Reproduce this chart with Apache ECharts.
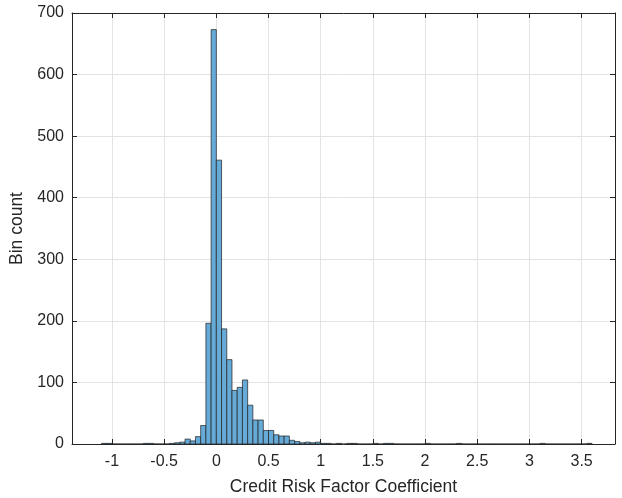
<!DOCTYPE html>
<html>
<head>
<meta charset="utf-8">
<script src="https://cdn.jsdelivr.net/npm/echarts@6/dist/echarts.min.js"></script>
<style>
  html, body { margin: 0; padding: 0; background: #fff; }
  #chart { width: 622px; height: 498px; }
</style>
</head>
<body>
<div id="chart"></div>
<script>
// Histogram of fitted credit risk factor coefficients (bin width 0.05)
const binStart = -1.1;
const binWidth = 0.05;
const binCounts = [
  1, 1, 0, 0, 0, 0, 0, 0, 1, 1,      // -1.10 .. -0.65
  0, 0, 0, 1, 2, 3, 8, 5, 12, 30,    // -0.60 .. -0.15
  196, 673, 461, 187, 137, 87, 92, 104, 63, 39, // -0.10 .. 0.35
  39, 22, 22, 15, 13, 13, 6, 4, 2, 3,  // 0.40 .. 0.85
  2, 3, 1, 1, 0, 1, 0, 1, 1, 0,      // 0.90 .. 1.35
  0, 0, 1, 0, 1, 1, 0, 0, 0, 0,      // 1.40 .. 1.85
  0, 0, 1, 0, 0, 0, 0, 0, 1, 0,      // 1.90 .. 2.35
  0, 0, 0, 0, 0, 0, 0, 0, 0, 0,      // 2.40 .. 2.85
  0, 0, 0, 0, 1, 0, 0, 0, 0, 0,      // 2.90 .. 3.35
  0, 0, 0, 1                          // 3.40 .. 3.55
];
const xTicks = [-1, -0.5, 0, 0.5, 1, 1.5, 2, 2.5, 3, 3.5];
const xLimits = [-1.383, 3.82];
const yLimits = [0, 700];
const yStep = 100;

const bins = binCounts.map((c, i) => {
  const lo = +(binStart + i * binWidth).toFixed(4);
  const hi = +(lo + binWidth).toFixed(4);
  return [lo, hi, c];
});

const axisColor = '#262626';
const gridColor = '#e3e3e3';
const fontFamily = '"Liberation Sans", Arial, Helvetica, sans-serif';

const chart = echarts.init(document.getElementById('chart'), null, { renderer: 'canvas' });

const xBase = {
  type: 'value',
  min: xLimits[0],
  max: xLimits[1],
  axisLine: { show: true, onZero: false, lineStyle: { color: axisColor, width: 1 } },
  axisTick: { show: true, inside: true, length: 5, customValues: xTicks, lineStyle: { color: axisColor } },
  splitLine: { show: false }
};
const yBase = {
  type: 'value',
  min: yLimits[0],
  max: yLimits[1],
  interval: yStep,
  axisLine: { show: true, onZero: false, lineStyle: { color: axisColor, width: 1 } },
  axisTick: { show: true, inside: true, length: 5, lineStyle: { color: axisColor } },
  splitLine: { show: false }
};

chart.setOption({
  animation: false,
  backgroundColor: '#ffffff',
  grid: { left: 72, right: 7, top: 13, bottom: 54, containLabel: false, outerBoundsMode: 'none' },
  xAxis: [
    Object.assign({}, xBase, {
      position: 'bottom',
      name: 'Credit Risk Factor Coefficient',
      nameLocation: 'middle',
      nameGap: 34,
      nameTextStyle: { color: axisColor, fontSize: 17.5, fontFamily: fontFamily },
      axisLabel: {
        show: true, customValues: xTicks, margin: 10,
        color: axisColor, fontSize: 16, fontFamily: fontFamily
      },
      splitLine: { show: true, lineStyle: { color: gridColor, width: 1 } }
    }),
    Object.assign({}, xBase, {
      position: 'top',
      axisLabel: { show: false }
    })
  ],
  yAxis: [
    Object.assign({}, yBase, {
      position: 'left',
      name: 'Bin count',
      nameLocation: 'middle',
      nameGap: 41,
      nameTextStyle: { color: axisColor, fontSize: 17.5, fontFamily: fontFamily },
      axisLabel: { show: true, margin: 8, color: axisColor, fontSize: 16, fontFamily: fontFamily },
      splitLine: { show: true, lineStyle: { color: gridColor, width: 1 } }
    }),
    Object.assign({}, yBase, {
      position: 'right',
      axisLabel: { show: false }
    })
  ],
  series: [{
    type: 'custom',
    xAxisIndex: 0,
    yAxisIndex: 0,
    encode: { x: [0, 1], y: 2 },
    data: bins,
    clip: true,
    renderItem: function (params, api) {
      const top = api.coord([api.value(0), api.value(2)]);
      const base = api.coord([api.value(1), 0]);
      return {
        type: 'rect',
        shape: { x: top[0], y: top[1], width: base[0] - top[0], height: base[1] - top[1] },
        style: { fill: '#66aad7', stroke: '#1f1f1f', lineWidth: 0.7 }
      };
    }
  }]
});
</script>
</body>
</html>
